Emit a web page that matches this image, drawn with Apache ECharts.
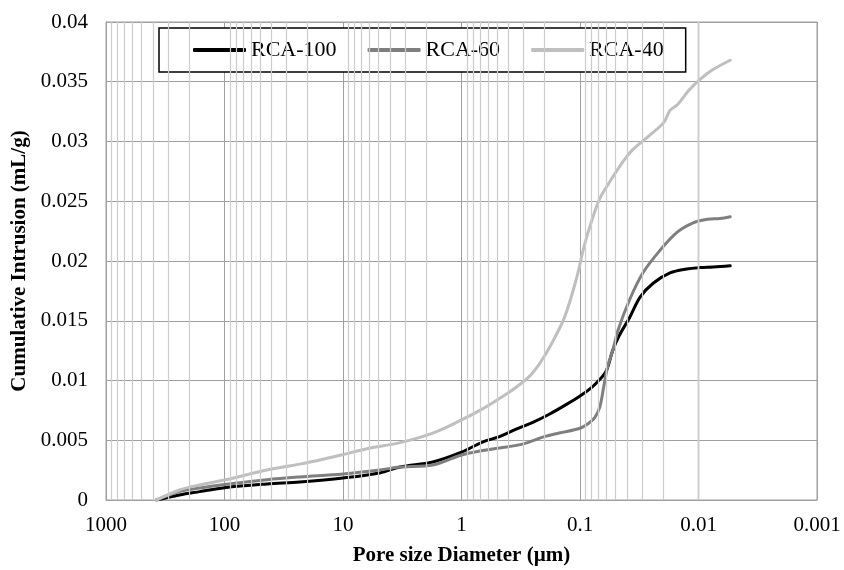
<!DOCTYPE html>
<html><head><meta charset="utf-8">
<script src="https://cdn.jsdelivr.net/npm/echarts@6/dist/echarts.min.js"></script>
<style>html,body{margin:0;padding:0;background:#fff}#c{width:844px;height:570px}</style>
</head><body><div id="c"></div>
<script>
// ---- data ----
const seriesNames = ['RCA-100', 'RCA-60', 'RCA-40'];
const tickLabels = ['1000', '100', '10', '1', '0.1', '0.01', '0.001'];
const minorGridValues = [
  900, 800, 700, 600, 500, 400, 300, 200,
  90, 80, 70, 60, 50, 40, 30, 20,
  9, 8, 7, 6, 5, 4, 3, 2,
  0.9, 0.8, 0.7, 0.6, 0.5, 0.4, 0.3, 0.2,
  0.09, 0.08, 0.07, 0.06, 0.05, 0.04, 0.03, 0.02,
  0.009, 0.008, 0.007, 0.006, 0.005, 0.004, 0.003, 0.002
];

const rca100X = [375, 240, 162, 100, 44, 23.2, 10, 4.9, 3.3, 1.75, 1, 0.665, 0.478, 0.35, 0.25, 0.18, 0.13, 0.1, 0.08, 0.068, 0.06, 0.053, 0.047, 0.038, 0.031, 0.024, 0.0174, 0.0126, 0.0097, 0.0075, 0.0054];
const rca100Y = [0, 0.00042, 0.0007, 0.00103, 0.00134, 0.00151, 0.00184, 0.00226, 0.00276, 0.00318, 0.0040, 0.00485, 0.0053, 0.0059, 0.0065, 0.0072, 0.0080, 0.0087, 0.0094, 0.0101, 0.0108, 0.0125, 0.0137, 0.0153, 0.0170, 0.01816, 0.0190, 0.01933, 0.01945, 0.0195, 0.0196];

const rca60X = [375, 240, 162, 100, 44, 23.2, 10, 4.9, 3.3, 1.75, 1, 0.7, 0.478, 0.3, 0.2, 0.15, 0.1, 0.085, 0.075, 0.068, 0.063, 0.058, 0.0527, 0.0478, 0.038, 0.0295, 0.0211, 0.0152, 0.0111, 0.0084, 0.0066, 0.0054];
const rca60Y = [0, 0.0007, 0.001, 0.0013, 0.0017, 0.00193, 0.00218, 0.00251, 0.00276, 0.00293, 0.00377, 0.0041, 0.00435, 0.0047, 0.0053, 0.0056, 0.0060, 0.0064, 0.0069, 0.0078, 0.0095, 0.0113, 0.01256, 0.0142, 0.0168, 0.0190, 0.0209, 0.0224, 0.0232, 0.0235, 0.02355, 0.0237];

const rca40X = [375, 240, 162, 100, 44, 23.2, 12.2, 10, 5.9, 3.3, 1.75, 1, 0.7, 0.478, 0.35, 0.27, 0.22, 0.18, 0.135, 0.106, 0.0925, 0.08, 0.0683, 0.058, 0.0493, 0.042, 0.036, 0.026, 0.0196, 0.0174, 0.015, 0.012, 0.0097, 0.0076, 0.0054];
const rca40Y = [0, 0.00084, 0.00126, 0.00167, 0.00251, 0.0030, 0.0036, 0.0038, 0.00435, 0.0048, 0.0056, 0.0067, 0.0075, 0.0085, 0.0094, 0.0103, 0.0114, 0.0128, 0.0153, 0.0187, 0.0212, 0.0233, 0.0252, 0.0264, 0.0275, 0.0285, 0.0293, 0.0305, 0.0316, 0.0326, 0.0331, 0.0343, 0.0352, 0.0360, 0.0368];

// ---- chart ----
const font = '"Liberation Serif","Times New Roman",serif';
const pairs = (xs, ys) => xs.map((x, i) => [x, ys[i]]);
const fmtX = v => {
  for (const t of tickLabels) {
    if (Math.abs(Math.log10(parseFloat(t)) - Math.log10(v)) < 1e-6) return t;
  }
  return '';
};
const colors = ['#000000', '#7f7f7f', '#bfbfbf'];
const chart = echarts.init(document.getElementById('c'), null, {renderer: 'canvas'});
const lineSeries = [[rca100X, rca100Y], [rca60X, rca60Y], [rca40X, rca40Y]].map((d, i) => ({
  name: seriesNames[i],
  type: 'line',
  data: pairs(d[0], d[1]),
  showSymbol: false,
  smooth: 0.35,
  z: 3,
  color: colors[i],
  lineStyle: {color: colors[i], width: 3, cap: 'round', join: 'round'}
}));
chart.setOption({
  animation: false,
  backgroundColor: '#ffffff',
  textStyle: {fontFamily: font},
  grid: {left: 106, right: 27, top: 22, bottom: 70, show: true, borderColor: '#a0a0a0', borderWidth: 1, outerBoundsMode: 'none'},
  legend: {
    data: seriesNames,
    left: 159, top: 28,
    padding: [11, 22, 11, 34],
    itemGap: 31, itemWidth: 53, itemHeight: 4,
    icon: 'roundRect',
    borderColor: '#000', borderWidth: 1.5,
    backgroundColor: '#ffffff',
    textStyle: {fontFamily: font, fontSize: 22, color: '#000'}
  },
  xAxis: {
    type: 'log', logBase: 10, min: 0.001, max: 1000, inverse: true, splitNumber: 6,
    axisLine: {show: true, lineStyle: {color: '#a0a0a0', width: 1}},
    axisTick: {show: false},
    axisLabel: {fontFamily: font, fontSize: 21, color: '#000', margin: 15, formatter: fmtX},
    splitLine: {show: true, lineStyle: {color: '#a0a0a0', width: 1}},
    name: 'Pore size Diameter (µm)', nameLocation: 'middle', nameGap: 45,
    nameTextStyle: {fontFamily: font, fontSize: 21, fontWeight: 'bold', color: '#000'}
  },
  yAxis: {
    type: 'value', min: 0, max: 0.04, interval: 0.005,
    axisLine: {show: true, lineStyle: {color: '#a0a0a0', width: 1}},
    axisTick: {show: false},
    axisLabel: {fontFamily: font, fontSize: 21, color: '#000', margin: 18},
    splitLine: {show: true, lineStyle: {color: '#a0a0a0', width: 1}},
    name: 'Cumulative Intrusion (mL/g)', nameLocation: 'middle', nameGap: 73,
    nameTextStyle: {fontFamily: font, fontSize: 21, fontWeight: 'bold', color: '#000'}
  },
  series: [{
    name: 'minor', type: 'line', data: [], z: 1, silent: true,
    markLine: {
      silent: true, symbol: 'none', animation: false,
      label: {show: false},
      lineStyle: {type: 'solid', color: '#cccccc', width: 1.2},
      emphasis: {disabled: true},
      data: minorGridValues.map(v => ({xAxis: v}))
    }
  }].concat(lineSeries)
});
</script></body></html>
